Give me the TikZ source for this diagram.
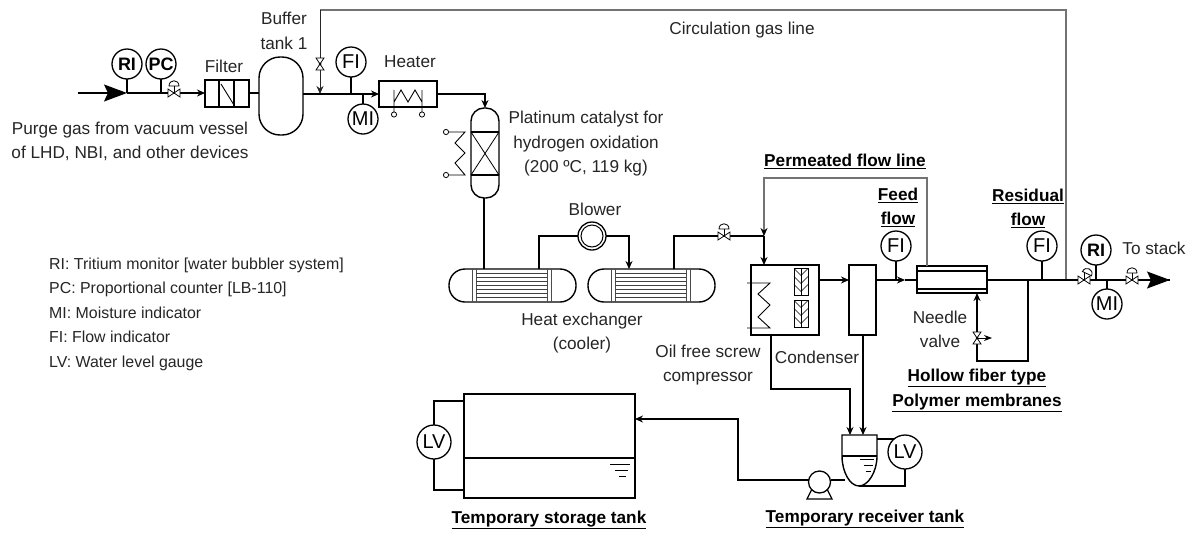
\documentclass[tikz,border=0pt]{standalone}
\usepackage{fontspec}
\setmainfont{Liberation Sans}
\usetikzlibrary{arrows.meta}
\usetikzlibrary{positioning}
\tikzset{
  pipe/.style={black, line width=1.3pt},
  flow/.style={pipe, -{Stealth[length=8pt,width=7pt]}},
  mainflow/.style={pipe, -{Stealth[length=23pt,width=17pt,inset=4pt]}},
  thinline/.style={black!55, line width=1.2pt},
  thinflow/.style={thinline, -{Stealth[length=8pt,width=7pt,black]}},
  gauge/.style={draw, circle, line width=1.3pt, minimum size=30pt, inner sep=0pt, outer sep=0pt, font=\fontsize{20}{20}\selectfont, fill=white},
  gaugebold/.style={gauge, font=\fontsize{18}{18}\selectfont\bfseries},
  tankbox/.style={draw, line width=1.4pt, inner sep=0pt, outer sep=0pt},
  lbl/.style={font=\fontsize{17.2}{24.5}\selectfont, align=center, inner sep=0pt, text=black!85},
  boldlbl/.style={font=\fontsize{17.2}{24.5}\selectfont\bfseries, align=center, inner sep=0pt},
}
\newcommand\valvebody[1]{
  \draw[black, line width=0.8pt, fill=white, rotate=#1] (-6,-4)--(6,4)--(6,-4)--(-6,4)--cycle;
}
\newcommand\ctrlvalve[4]{
  \coordinate (#1) at (#2,#3);
  \begin{scope}[shift={(#1)}]
    \valvebody{0}
    \draw[black, line width=0.8pt] (0,0)--(0,-7);
    \draw[black, line width=0.8pt, fill=white, rotate=#4] (-5,-7) .. controls (-5,-14) and (5,-14) .. (5,-7) -- cycle;
  \end{scope}
}
\newcommand\handvalve[3]{
  \coordinate (#1) at (#2,#3);
  \begin{scope}[shift={(#1)}]
    \valvebody{90}
    \fill[black] (0,0) circle (1.5pt);
  \end{scope}
}
\newcommand\heatex[2]{
  \node[tankbox, rounded corners=16pt, minimum width=127pt, minimum height=33pt] (#1) at (#2,285.5) {};
  \begin{scope}[shift={(#1.west)}]
    \foreach \xx in {23,27,98,102}
      \draw[black!70, line width=0.8pt] (\xx,-16.5)--(\xx,16.5);
    \foreach \yy in {-12,-8,-4,0,4,8,12}
      \draw[black!75, line width=0.8pt] (27,\yy)--(98,\yy);
  \end{scope}
}
\newcommand\screwbox[3]{
  \node[draw, line width=0.8pt, minimum width=14pt, minimum height=27pt, inner sep=0pt, outer sep=0pt] (#1) at (#2,#3) {};
  \begin{scope}[shift={(#1)}]
    \draw[line width=0.6pt] (0,-13)--(0,13);
    \foreach \yy in {-13,-5,3}
      \draw[line width=0.6pt] (-7,\yy)--(0,\yy+7)--(7,\yy);
  \end{scope}
}
\newcommand\levelmark[3]{
  \begin{scope}[shift={(#2,#3)}]
    \draw[black, line width=1pt] (-#1,0)--(#1,0);
    \draw[black, line width=1pt] (-#1*0.5,6)--(#1*0.8,6);
    \draw[black, line width=1pt] (-#1*0.1,12)--(#1*0.6,12);
  \end{scope}
}

\begin{document}
\begin{tikzpicture}[x=1pt, y=-1pt]
  \useasboundingbox[fill=white] (0,0) rectangle (1196,536);

  % upper train
  \coordinate (inlet) at (78,93);
  \coordinate (inletend) at (127,93);
  \node[gaugebold] (ria) at (127,64) {RI};
  \node[gaugebold] (pc) at (161,64) {PC};
  \node[tankbox, minimum width=44pt, minimum height=27pt] (filter) at (227,93.5) {};
  \node[tankbox, rounded corners=21pt, minimum width=44pt, minimum height=78pt] (buffer) at (281,96) {};
  \node[tankbox, minimum width=58pt, minimum height=26pt] (heater) at (408,94) {};
  \node[gauge] (fia) at (351,62) {FI};
  \node[gauge] (mia) at (363,119) {MI};
  \node[tankbox, rounded corners=13pt, minimum width=28pt, minimum height=90pt] (catalyst) at (485,153) {};
  \coordinate (valvea) at (174,93);
  \coordinate (circin) at (320,94);
  \coordinate (circtop) at (320,10);
  \coordinate (circcorner) at (1066,10);
  \coordinate (circjoin) at (1066,280);
  \coordinate (heaterbend) at (485,94);

  \draw[mainflow] (inlet)--(inletend);
  \draw[pipe] (inletend)--(valvea);
  \draw[flow] (valvea)--(filter.west |- valvea);
  \draw[pipe] (filter.east |- valvea)--(buffer.west |- valvea);
  \draw[flow] (buffer.east |- heater)--(heater.west);
  \draw[flow] (heater.east)--(heaterbend)--(catalyst.north);
  \draw[pipe] (ria)--(ria |- inlet);
  \draw[pipe] (pc)--(pc |- inlet);
  \draw[pipe] (fia)--(fia |- heater);
  \draw[pipe] (mia)--(mia |- heater);
  \draw[thinline] (circjoin)--(circcorner)--(circtop);
  \draw[black!85, line width=0.8pt, -{Stealth[length=8pt,width=7pt]}] (circtop)--(circin);

  \ctrlvalve{valveapic}{174}{93}{0}
  \handvalve{valveb}{320}{64}

  % filter, heater, catalyst insides
  \draw[pipe] (219,80)--(219,107) (234,80)--(234,107);
  \draw[black, line width=0.9pt] (221,84)--(234,105);
  \draw[black, line width=0.9pt] (394,90)--(394,112) (394,102)--(401,90)--(408,102)--(415,90)--(422,102) (422,90)--(422,112);
  \draw[black, line width=0.8pt, fill=white] (394,114.5) circle (2.6pt) (422,114.5) circle (2.6pt);
  \draw[pipe] (471,132)--(499,132) (471,175)--(499,175);
  \draw[black, line width=0.8pt] (471,132)--(499,175) (499,132)--(471,175);
  \draw[black, line width=0.9pt] (449,132)--(465,132)--(455,143)--(465,153)--(455,163)--(465,175)--(449,175);
  \draw[black, line width=0.8pt, fill=white] (446,132) circle (2.6pt) (446,175) circle (2.6pt);

  % coolers and blower
  \heatex{hxa}{512.5}
  \heatex{hxb}{651.5}
  \node[draw, circle, line width=1.3pt, minimum size=28pt, inner sep=0pt, outer sep=0pt] (blower) at (592,236) {};
  \node[draw, circle, line width=1pt, minimum size=22pt, inner sep=0pt] (blowerin) at (592,236) {};
  \coordinate (hxaout) at (539,269);
  \coordinate (hxain) at (484,269);
  \coordinate (hxbin) at (629,269);
  \coordinate (hxbout) at (674,269);
  \coordinate (joint) at (764,236);
  \coordinate (perma) at (764,178);
  \coordinate (permb) at (927,178);
  \draw[pipe] (catalyst.south -| hxain)--(hxain);
  \draw[pipe] (hxaout)--(hxaout |- blower)--(blower.west);
  \draw[flow] (blower.east)--(hxbin |- blower)--(hxbin);
  \draw[pipe] (hxbout)--(hxbout |- joint)--(joint);
  \ctrlvalve{valvec}{724}{236}{0}

  % compressor and condenser
  \node[tankbox, minimum width=68pt, minimum height=70pt] (compressor) at (785,300) {};
  \node[tankbox, minimum width=27pt, minimum height=70pt] (condenser) at (862.5,300) {};
  \node[tankbox, minimum width=70pt, minimum height=27pt] (membrane) at (952,279.5) {};
  \coordinate (feedmark) at (905,280);
  \draw[flow] (joint)--(joint |- compressor.north);
  \draw[thinflow] (permb |- membrane.north)--(permb)--(perma)--(joint);
  \draw[black, line width=0.9pt] (747,283)--(770,283)--(758,294)--(770,305)--(758,317)--(770,328)--(747,328);
  \screwbox{screwa}{801}{281.5}
  \screwbox{screwb}{801}{313.5}
  \draw[flow] (compressor.east |- feedmark)--(condenser.west |- feedmark);
  \draw[flow] (condenser.east |- feedmark)--(feedmark);
  \draw[pipe] (feedmark)--(membrane.west |- feedmark);

  % membrane and outlet
  \node[gauge] (fib) at (896,246) {FI};
  \node[gauge] (fic) at (1042,246) {FI};
  \node[gaugebold] (rib) at (1096,250) {RI};
  \node[gauge] (mib) at (1107,304) {MI};
  \coordinate (outlet) at (1170,280);
  \coordinate (branchtop) at (1028,280);
  \coordinate (branchbot) at (1028,361);
  \coordinate (returnbot) at (977,361);
  \draw[pipe] (fib)--(fib |- feedmark);
  \draw[pipe] (membrane.east |- outlet)--(outlet);
  \draw[mainflow] (1130,280)--(outlet);
  \draw[pipe] (fic)--(fic |- outlet);
  \draw[pipe] (rib)--(rib |- outlet);
  \draw[pipe] (mib)--(mib |- outlet);
  \draw[flow] (branchtop)--(branchbot)--(returnbot)--(returnbot |- membrane.south);
  \draw[pipe] (917,271)--(987,271) (917,289)--(987,289);
  \handvalve{valved}{977}{338}
  \draw[black, -{Stealth[length=8pt,width=6pt]}, line width=1pt] (valved)--(992,338);
  \ctrlvalve{valvee}{1084}{280}{-25}
  \ctrlvalve{valvef}{1132}{280}{0}

  % tanks
  \node[tankbox, minimum width=171pt, minimum height=104pt] (storage) at (549.5,446) {};
  \draw[pipe] (464,458)--(635,458);
  \levelmark{10}{620}{464}
  \node[gauge, minimum size=34pt] (lva) at (434,442) {LV};
  \coordinate (lvatop) at (434,401);
  \coordinate (lvabot) at (434,490);
  \draw[pipe] (storage.west |- lvatop)--(lvatop)--(lva);
  \draw[pipe] (lva)--(lvabot)--(storage.west |- lvabot);

  \coordinate (rcvtop) at (863,435);
  \coordinate (rcvtopb) at (850,435);
  \coordinate (rcvbot) at (859,486);
  \coordinate (rcvside) at (845,480);
  \coordinate (cmpbend) at (771,389);
  \coordinate (cndout) at (863,335);
  \coordinate (cmpout) at (771,335);
  \coordinate (lvbtop) at (894,439);
  \coordinate (rcvtapin) at (877,439);
  \draw[flow] (cmpout)--(cmpbend)--(rcvtopb |- cmpbend)--(rcvtopb);
  \draw[flow] (cndout)--(rcvtop);
  \draw[black, line width=1.4pt, fill=white] (842,435)--(877,435)--(877,456) .. controls (877,472) and (868,486) .. (rcvbot) .. controls (850,486) and (842,472) .. (842,456) -- cycle;
  \draw[pipe] (842,456)--(877,456);
  \levelmark{7}{867}{459}
  \node[gauge, minimum size=34pt] (lvb) at (905,452) {LV};
  \draw[pipe] (rcvtapin)--(lvbtop);
  \draw[pipe] (lvb)--(lvb |- rcvbot)--(rcvbot);
  \node[draw, circle, line width=1.3pt, minimum size=22pt, inner sep=0pt, outer sep=0pt, fill=white] (pump) at (819.5,482) {};
  \draw[pipe] (812,489)--(807,499)--(832,499)--(827,489);
  \coordinate (pumpbend) at (738,480);
  \coordinate (pumpup) at (738,419);
  \draw[pipe] (rcvside)--(pump.east |- rcvside);
  \draw[flow] (pump.west |- pumpbend)--(pumpbend)--(pumpup)--(storage.east |- pumpup);

  % labels
  \node[lbl] (lblbuffer) at (284,31) {Buffer\\tank 1};
  \node[lbl] (lblfilter) at (224,66) {Filter};
  \node[lbl] (lblheater) at (410,62) {Heater};
  \node[lbl] (lblcirc) at (742,30) {Circulation gas line};
  \node[lbl] (lblpurge) at (130,141.5) {Purge gas from vacuum vessel\\of LHD, NBI, and other devices};
  \node[lbl] (lblcat) at (586,144) {Platinum catalyst for\\hydrogen oxidation\\(200 ºC, 119 kg)};
  \node[lbl] (lblblower) at (595,209) {Blower};
  \node[lbl] (lblhx) at (582,333) {Heat exchanger\\(cooler)};
  \node[lbl] (lbloil) at (708,365) {Oil free screw\\compressor};
  \node[lbl] (lblcond) at (817,357) {Condenser};
  \node[lbl] (lblneedle) at (940,329.5) {Needle\\valve};
  \node[lbl] (lblstack) at (1154,248) {To stack};
  \node[boldlbl] (lblperm) at (845,161) {\underline{Permeated flow line}};
  \node[boldlbl] (lblfeed) at (898,207.5) {\underline{Feed}\\\underline{flow}};
  \node[boldlbl] (lblres) at (1028,208.5) {\underline{Residual}\\\underline{flow}};
  \node[boldlbl] (lblhollow) at (977,390.5) {\underline{Hollow fiber type}\\\underline{Polymer membranes}};
  \node[boldlbl] (lblstorage) at (549,520) {\underline{Temporary storage tank}};
  \node[boldlbl] (lblrcv) at (865,519) {\underline{Temporary receiver tank}};
  \node[lbl, font=\fontsize{15.9}{24.5}\selectfont, align=left, anchor=north west] (lbllegend) at (49,257.5) {RI: Tritium monitor [water bubbler system]\\PC: Proportional counter [LB-110]\\MI: Moisture indicator\\FI: Flow indicator\\LV: Water level gauge};
\end{tikzpicture}
\end{document}
